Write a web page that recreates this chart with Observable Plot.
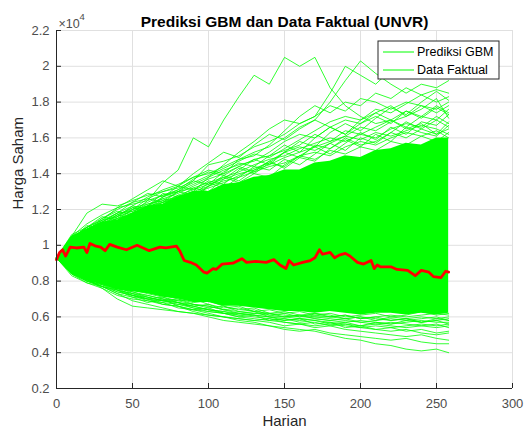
<!DOCTYPE html>
<html>
<head>
<meta charset="utf-8">
<script src="https://cdn.jsdelivr.net/npm/d3@7"></script>
<script src="https://cdn.jsdelivr.net/npm/@observablehq/plot@0.6"></script>
<style>
  html, body { margin: 0; padding: 0; background: #fff; }
  #chart { width: 525px; height: 433px; }
</style>
</head>
<body>
<div id="chart"></div>
<script>
// ---- Data (prices in units of 10^4) ----
const titleText = "Prediksi GBM dan Data Faktual (UNVR)";
const xLabel = "Harian";
const yLabel = "Harga Saham";
const legendLabels = ["Prediksi GBM", "Data Faktual"];
const xTicks = [0, 50, 100, 150, 200, 250, 300];
const yTicks = [0.2, 0.4, 0.6, 0.8, 1, 1.2, 1.4, 1.6, 1.8, 2, 2.2];

// Simulation sample days
const simDays = [0,10,20,30,40,50,60,70,80,90,100,110,120,130,140,150,160,170,180,190,200,210,220,230,240,250,258];

// Dense core of the simulated paths (lower / upper envelope)
const coreHi = [0.93,1.05,1.09,1.13,1.14,1.18,1.22,1.23,1.27,1.30,1.30,1.34,1.35,1.38,1.39,1.42,1.42,1.46,1.47,1.50,1.49,1.53,1.54,1.57,1.56,1.60,1.60];
const coreLo = [0.93,0.84,0.80,0.78,0.75,0.74,0.73,0.71,0.70,0.68,0.68,0.66,0.66,0.65,0.64,0.63,0.63,0.62,0.63,0.62,0.61,0.62,0.62,0.61,0.62,0.61,0.62];

// Individual simulated paths at the fringes
const U1 = [0.93,1.00,1.06,1.10,1.14,1.18,1.25,1.35,1.42,1.60,1.55,1.70,1.83,1.95,1.90,2.05,2.00,2.05,1.88,1.78,1.72,1.68,1.70,1.65,1.68,1.62,1.65];
const U2 = [0.93,1.05,1.18,1.23,1.22,1.25,1.28,1.30,1.33,1.38,1.42,1.40,1.48,1.52,1.55,1.60,1.66,1.70,1.80,1.92,2.03,1.96,1.90,1.85,1.90,1.88,1.92];
const U3 = [0.93,1.04,1.10,1.15,1.20,1.24,1.26,1.30,1.32,1.36,1.45,1.47,1.50,1.55,1.58,1.62,1.68,1.72,1.85,2.00,1.95,1.90,1.98,1.95,2.05,2.12,1.96];
const U4 = [0.93,1.02,1.08,1.14,1.18,1.22,1.27,1.31,1.34,1.38,1.40,1.44,1.48,1.50,1.56,1.64,1.72,1.78,1.74,1.80,1.78,1.85,1.82,1.88,1.84,1.80,1.83];
const U5 = [0.93,1.03,1.09,1.13,1.17,1.20,1.24,1.28,1.30,1.34,1.38,1.42,1.45,1.47,1.52,1.58,1.62,1.60,1.66,1.70,1.68,1.74,1.78,1.72,1.76,1.82,1.71];
const U6 = [0.93,1.01,1.07,1.12,1.16,1.21,1.23,1.26,1.29,1.33,1.37,1.40,1.44,1.48,1.50,1.53,1.56,1.62,1.58,1.64,1.62,1.66,1.70,1.75,1.72,1.70,1.76];
const U7 = [0.93,1.02,1.09,1.13,1.18,1.19,1.22,1.27,1.30,1.32,1.35,1.38,1.41,1.45,1.48,1.50,1.54,1.57,1.60,1.58,1.62,1.60,1.65,1.68,1.66,1.72,1.68];
const U8 = [0.93,1.03,1.07,1.11,1.15,1.20,1.22,1.24,1.28,1.31,1.34,1.37,1.40,1.42,1.45,1.49,1.52,1.55,1.58,1.61,1.59,1.63,1.61,1.64,1.67,1.65,1.62];
const U9 = [0.93,1.04,1.10,1.14,1.16,1.19,1.23,1.25,1.27,1.30,1.33,1.36,1.38,1.41,1.44,1.46,1.50,1.52,1.50,1.55,1.58,1.56,1.60,1.63,1.61,1.64,1.60];
const U10 = [0.93,1.01,1.06,1.10,1.15,1.18,1.21,1.24,1.27,1.30,1.38,1.45,1.52,1.58,1.65,1.70,1.68,1.72,1.78,1.75,1.82,1.80,1.76,1.80,1.78,1.74,1.78];
const U11 = [0.93,1.05,1.12,1.17,1.21,1.23,1.25,1.28,1.31,1.35,1.39,1.43,1.47,1.51,1.49,1.54,1.59,1.64,1.69,1.72,1.70,1.76,1.74,1.79,1.84,1.87,1.85];
const U12 = [0.93,1.02,1.08,1.12,1.15,1.17,1.20,1.24,1.26,1.29,1.32,1.35,1.39,1.43,1.46,1.52,1.55,1.53,1.57,1.61,1.66,1.64,1.69,1.72,1.78,1.76,1.80];
const U13 = [0.93,1.06,1.10,1.16,1.14,1.20,1.26,1.24,1.30,1.36,1.34,1.41,1.46,1.44,1.50,1.56,1.52,1.60,1.66,1.62,1.70,1.74,1.70,1.66,1.72,1.78,1.74];
const U14 = [0.93,1.03,1.11,1.09,1.16,1.22,1.20,1.27,1.33,1.31,1.36,1.34,1.42,1.48,1.45,1.52,1.58,1.55,1.63,1.68,1.64,1.71,1.77,1.73,1.80,1.86,1.81];
const U15 = [0.93,1.04,1.08,1.15,1.19,1.17,1.22,1.29,1.27,1.32,1.30,1.37,1.43,1.40,1.46,1.44,1.50,1.55,1.51,1.57,1.63,1.59,1.66,1.62,1.69,1.67,1.73];
const U16 = [0.93,1.02,1.07,1.11,1.17,1.21,1.19,1.23,1.28,1.26,1.33,1.39,1.36,1.42,1.47,1.43,1.49,1.47,1.54,1.60,1.56,1.58,1.63,1.60,1.65,1.70,1.66];
const U17 = [0.93,1.05,1.09,1.13,1.18,1.24,1.29,1.27,1.31,1.37,1.41,1.39,1.44,1.41,1.47,1.52,1.49,1.56,1.54,1.59,1.55,1.62,1.58,1.66,1.63,1.61,1.67];
const U18 = [0.93,1.01,1.05,1.10,1.13,1.16,1.22,1.26,1.24,1.28,1.35,1.32,1.38,1.44,1.42,1.48,1.45,1.51,1.57,1.53,1.60,1.57,1.63,1.69,1.65,1.62,1.69];
const U19 = [0.93,1.03,1.10,1.14,1.21,1.26,1.31,1.36,1.33,1.40,1.46,1.52,1.49,1.56,1.62,1.59,1.65,1.70,1.66,1.62,1.68,1.72,1.68,1.75,1.71,1.77,1.73];
const U20 = [0.93,1.04,1.08,1.12,1.17,1.15,1.21,1.25,1.30,1.28,1.33,1.38,1.35,1.40,1.38,1.45,1.50,1.48,1.53,1.51,1.55,1.53,1.58,1.56,1.61,1.58,1.63];
const L1 = [0.93,0.84,0.79,0.76,0.70,0.66,0.65,0.64,0.63,0.62,0.60,0.58,0.57,0.56,0.55,0.54,0.53,0.52,0.50,0.48,0.47,0.45,0.44,0.42,0.41,0.42,0.40];
const L2 = [0.93,0.85,0.80,0.77,0.74,0.72,0.70,0.68,0.65,0.64,0.62,0.60,0.58,0.57,0.55,0.53,0.52,0.53,0.51,0.50,0.49,0.48,0.47,0.48,0.46,0.45,0.45];
const L3 = [0.93,0.84,0.81,0.76,0.72,0.70,0.69,0.67,0.66,0.63,0.61,0.60,0.59,0.58,0.57,0.55,0.56,0.54,0.55,0.53,0.52,0.51,0.50,0.49,0.50,0.48,0.47];
const L4 = [0.93,0.86,0.80,0.78,0.75,0.73,0.70,0.67,0.66,0.64,0.63,0.62,0.60,0.59,0.58,0.57,0.56,0.57,0.55,0.56,0.54,0.53,0.54,0.52,0.53,0.51,0.52];
const L5 = [0.93,0.87,0.82,0.79,0.76,0.74,0.72,0.70,0.68,0.66,0.64,0.63,0.61,0.60,0.59,0.58,0.59,0.58,0.57,0.56,0.55,0.56,0.55,0.54,0.55,0.56,0.54];
const L6 = [0.93,0.85,0.82,0.80,0.77,0.73,0.71,0.69,0.67,0.65,0.63,0.62,0.62,0.61,0.60,0.59,0.58,0.59,0.58,0.57,0.58,0.57,0.56,0.57,0.58,0.57,0.57];
const L7 = [0.93,0.86,0.83,0.79,0.76,0.72,0.69,0.68,0.67,0.66,0.64,0.63,0.62,0.61,0.60,0.60,0.59,0.60,0.59,0.58,0.57,0.58,0.59,0.58,0.59,0.60,0.58];
const L8 = [0.93,0.84,0.80,0.77,0.75,0.71,0.70,0.69,0.68,0.65,0.64,0.62,0.61,0.62,0.61,0.60,0.61,0.60,0.60,0.59,0.60,0.59,0.58,0.59,0.60,0.59,0.60];
const L9 = [0.93,0.86,0.81,0.79,0.75,0.72,0.71,0.69,0.68,0.67,0.66,0.64,0.63,0.62,0.62,0.61,0.60,0.61,0.60,0.61,0.59,0.60,0.61,0.60,0.61,0.62,0.61];
const L10 = [0.93,0.85,0.81,0.77,0.73,0.69,0.67,0.65,0.63,0.62,0.61,0.60,0.59,0.58,0.59,0.57,0.56,0.55,0.56,0.55,0.54,0.55,0.54,0.55,0.56,0.55,0.56];
const L11 = [0.93,0.83,0.79,0.77,0.73,0.71,0.68,0.70,0.66,0.64,0.65,0.62,0.60,0.61,0.58,0.59,0.57,0.58,0.56,0.57,0.55,0.57,0.56,0.58,0.57,0.59,0.58];
const L12 = [0.93,0.85,0.82,0.78,0.76,0.74,0.71,0.69,0.70,0.67,0.65,0.66,0.63,0.64,0.61,0.62,0.60,0.62,0.61,0.59,0.60,0.58,0.60,0.59,0.57,0.58,0.59];
const L13 = [0.93,0.86,0.83,0.80,0.78,0.75,0.73,0.71,0.69,0.70,0.67,0.65,0.66,0.63,0.64,0.62,0.63,0.61,0.62,0.60,0.61,0.62,0.60,0.61,0.63,0.61,0.62];
const L14 = [0.93,0.84,0.80,0.78,0.74,0.72,0.70,0.71,0.68,0.66,0.67,0.64,0.62,0.63,0.60,0.58,0.59,0.56,0.57,0.54,0.55,0.53,0.52,0.53,0.51,0.50,0.51];
const L15 = [0.93,0.87,0.84,0.81,0.78,0.76,0.74,0.72,0.70,0.68,0.69,0.66,0.64,0.65,0.62,0.63,0.61,0.62,0.60,0.61,0.59,0.60,0.58,0.59,0.57,0.58,0.56];
const L16 = [0.93,0.85,0.81,0.77,0.75,0.73,0.72,0.70,0.69,0.67,0.66,0.64,0.65,0.63,0.62,0.60,0.61,0.59,0.58,0.59,0.57,0.56,0.57,0.56,0.55,0.54,0.55];

// Actual (factual) price series
const actualDays = [0,2,4,6,9,13,18,20,22,26,29,32,35,40,46,53,57,61,68,72,79,81,84,88,92,97,99,103,105,109,116,122,125,131,138,143,147,151,153,156,162,167,170,173,175,180,183,186,190,193,198,202,207,209,211,213,220,224,231,236,240,245,248,253,256,258];
const actualPrice = [0.92,0.96,0.975,0.94,0.99,0.985,0.99,0.96,1.01,0.995,0.99,0.97,1.005,0.99,0.975,1.0,0.985,0.97,0.99,0.985,0.995,0.97,0.915,0.905,0.89,0.85,0.845,0.87,0.865,0.895,0.90,0.925,0.905,0.91,0.905,0.92,0.89,0.87,0.915,0.89,0.905,0.915,0.93,0.975,0.95,0.96,0.93,0.945,0.955,0.94,0.905,0.895,0.915,0.87,0.89,0.88,0.88,0.865,0.86,0.83,0.86,0.85,0.825,0.82,0.855,0.85];

// ---- Tables built from the arrays ----
const paths = {U1,U2,U3,U4,U5,U6,U7,U8,U9,U10,U11,U12,U13,U14,U15,U16,U17,U18,U19,U20,
               L1,L2,L3,L4,L5,L6,L7,L8,L9,L10,L11,L12,L13,L14,L15,L16};
const pathRows = [];
for (const [id, vals] of Object.entries(paths)) {
  vals.forEach((v, i) => pathRows.push({id, day: simDays[i], v}));
}
const coreRows = simDays.map((d, i) => ({day: d, lo: coreLo[i], hi: coreHi[i]}));
const actualRows = actualDays.map((d, i) => ({day: d, v: actualPrice[i]}));

const GREEN = "#00ff00";
const fmt = d => String(+d.toFixed(1));

const chart = Plot.plot({
  width: 525,
  height: 433,
  marginLeft: 56,
  marginRight: 13,
  marginTop: 30,
  marginBottom: 45,
  style: {fontFamily: "'Liberation Sans', Arial, sans-serif", fontSize: "13px", color: "#4d4d4d", background: "#fff"},
  x: {domain: [0, 300]},
  y: {domain: [0.2, 2.2]},
  marks: [
    Plot.gridX(xTicks, {stroke: "#e0e0e0", strokeOpacity: 1}),
    Plot.gridY(yTicks, {stroke: "#e0e0e0", strokeOpacity: 1}),
    Plot.areaY(coreRows, {x: "day", y1: "lo", y2: "hi", fill: GREEN, fillOpacity: 1}),
    Plot.line(pathRows, {x: "day", y: "v", z: "id", stroke: GREEN, strokeWidth: 1, strokeOpacity: 0.8}),
    Plot.line(actualRows, {x: "day", y: "v", stroke: "#ff0000", strokeWidth: 2.8}),
    Plot.ruleX([0], {stroke: "#262626"}),
    Plot.ruleY([0.2], {stroke: "#262626"}),
    // inward ticks
    Plot.axisX(xTicks, {tickSize: 5, dy: -5, tickFormat: () => "", label: null, stroke: "#262626"}),
    Plot.axisY(yTicks, {tickSize: 5, dx: 5, tickFormat: () => "", label: null, stroke: "#262626"}),
    // tick labels
    Plot.axisX(xTicks, {tickSize: 0, tickPadding: 10, tickFormat: fmt, label: null, fill: "#4d4d4d"}),
    Plot.axisY(yTicks, {tickSize: 0, tickPadding: 7, tickFormat: fmt, label: null, fill: "#4d4d4d"}),
    // titles
    Plot.text([titleText], {frameAnchor: "top", dy: -15, fontWeight: "bold", fontSize: 15.5, fill: "#000"}),
    Plot.text(["×10"], {frameAnchor: "top-left", dx: 2, dy: -11, textAnchor: "start", fontSize: 12.5, fill: "#4d4d4d"}),
    Plot.text(["4"], {frameAnchor: "top-left", dx: 23, dy: -17, textAnchor: "start", fontSize: 9.5, fill: "#4d4d4d"}),
    Plot.text([xLabel], {frameAnchor: "bottom", dy: 37, fontSize: 15, fill: "#262626"}),
    Plot.text([yLabel], {frameAnchor: "left", dx: -38, rotate: -90, fontSize: 15, fill: "#262626"})
  ]
});

document.getElementById("chart").appendChild(chart);

// Legend (drawn in the top-right corner of the axes, MATLAB style)
const svg = d3.select(chart);
const lg = svg.append("g").attr("transform", "translate(378,41)");
lg.append("rect").attr("width", 121).attr("height", 38).attr("fill", "#fff").attr("stroke", "#262626").attr("stroke-width", 1);
legendLabels.forEach((lab, i) => {
  const y = 11 + i * 18;
  lg.append("line").attr("x1", 5).attr("x2", 36).attr("y1", y).attr("y2", y).attr("stroke", GREEN).attr("stroke-width", 1);
  lg.append("text").attr("x", 39).attr("y", y).attr("dy", "0.35em").attr("text-anchor", "start")
    .attr("font-size", 12.5).attr("fill", "#000")
    .attr("font-family", "'Liberation Sans', Arial, sans-serif").text(lab);
});
</script>
</body>
</html>
